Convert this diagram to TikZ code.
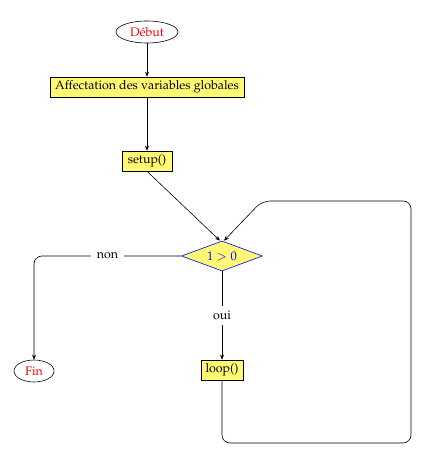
\documentclass[tikz,border=0pt]{standalone}
\usepackage[T1]{fontenc}
\usepackage{mathpazo}
\usetikzlibrary{shapes.geometric,arrows.meta}
\tikzset{
  term/.style={ellipse,draw,line width=0.6pt,text=red,minimum width=62pt,minimum height=22pt,inner sep=1pt},
  proc/.style={rectangle,draw,line width=0.6pt,fill=yellow!55,inner sep=2pt,minimum height=20pt},
  cond/.style={diamond,draw=blue,line width=0.6pt,fill=yellow!55,text=blue,aspect=2.7,inner sep=1pt,minimum width=81pt,minimum height=30pt},
  conn/.style={draw,-{Stealth[length=5pt,width=4pt]},line width=0.6pt,rounded corners=8pt},
  lbl/.style={fill=white,inner xsep=6pt,inner ysep=5pt},
}
\begin{document}
\begin{tikzpicture}[x=1pt,y=1pt,font=\fontsize{12.4}{14}\selectfont]
\useasboundingbox (0,0) rectangle (422,457);
\node[term] (debut) at (147,425) {Début};
\node[proc,minimum width=194pt] (aff) at (147,370) {Affectation des variables globales};
\node[proc,minimum width=50pt] (setup) at (147,296) {setup()};
\node[cond] (cond) at (222,201) {$1>0$};
\node[term,minimum width=40pt] (fin) at (34,86) {Fin};
\node[proc,minimum width=42pt] (loop) at (222,87) {loop()};
\coordinate (b1) at (222,14);
\coordinate (b2) at (411,14);
\coordinate (b3) at (411,256);
\coordinate (b4) at (262,256);
\coordinate (l1) at (34,201);
\draw[conn] (debut) -- (aff);
\draw[conn] (aff) -- (setup);
\draw[conn] (setup.south) -- ([xshift=-2pt]cond.north);
\draw[conn] (cond.west) -- node[lbl]{non} (l1) -- (fin.north);
\draw[conn] (cond.south) -- node[lbl,pos=0.5]{oui} (loop.north);
\draw[conn] (loop.south) -- (b1) -- (b2) -- (b3) -- (b4) -- ([xshift=2pt]cond.north);
\end{tikzpicture}
\end{document}
